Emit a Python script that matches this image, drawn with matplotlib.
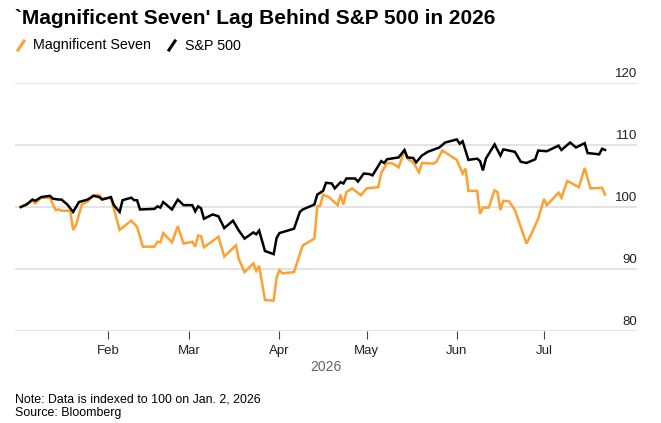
import matplotlib
matplotlib.use("Agg")
import matplotlib.pyplot as plt
import matplotlib.dates as mdates
from matplotlib.lines import Line2D
import numpy as np
import datetime as dt

plt.rcParams['font.family'] = ['Liberation Sans', 'DejaVu Sans']

start = dt.date(2026, 1, 2)

# day offsets from Jan 2, 2026 and index values
spx_days = [0, 2, 4, 5, 7, 10, 11, 13, 14, 16, 18, 20, 23, 25, 27, 28, 31, 32, 34, 35,
            38, 39, 40, 41, 46, 47, 48, 49, 52, 54, 56, 59, 60, 61, 62, 63, 66, 68, 70, 73,
            75, 77, 80, 81, 82, 84, 87, 88, 89, 94, 96, 97, 101, 102, 104, 105, 107, 108, 110, 111,
            112, 115, 116, 118, 120, 121, 124, 125, 126, 130, 132, 133, 135, 136, 138, 140, 144, 146, 150, 151,
            152, 154, 157, 158, 159, 160, 163, 165, 166, 170, 172, 174, 177, 178, 181, 185, 186, 189, 191, 194,
            195, 199, 200, 201]
spx_vals = [100.0, 100.4, 101.2, 101.0, 101.6, 101.8, 101.35, 101.2, 101.2, 100.4, 99.2, 100.8, 101.2, 101.8, 101.6, 101.2, 101.6, 100.3, 99.2, 101.1,
            101.5, 101.1, 101.1, 99.6, 99.7, 100.1, 99.9, 100.8, 99.6, 101.2, 100.3, 100.3, 99.3, 100.1, 99.8, 98.1, 98.8, 98.5, 96.6, 97.8,
            96.2, 94.9, 95.9, 95.6, 96.2, 92.9, 92.4, 95.0, 95.8, 96.5, 99.2, 99.6, 100.4, 102.0, 102.6, 103.9, 103.8, 103.0, 104.0, 103.8,
            104.6, 104.6, 104.1, 105.4, 105.3, 105.1, 107.4, 107.1, 107.7, 108.0, 109.2, 108.0, 107.9, 107.2, 108.3, 108.9, 109.6, 110.4, 110.9, 110.2,
            110.6, 107.6, 107.8, 107.4, 105.9, 107.8, 110.1, 108.3, 109.3, 108.9, 107.3, 107.1, 107.7, 109.1, 109.0, 109.9, 109.2, 110.4, 109.6, 110.3,
            108.7, 108.5, 109.4, 109.2]

mag7_days = [0, 4, 5, 7, 10, 12, 13, 14, 17, 18, 19, 21, 23, 25, 27, 28, 31, 34, 38, 40,
             42, 46, 47, 48, 49, 52, 54, 56, 59, 60, 61, 62, 63, 68, 70, 74, 75, 77, 80, 81,
             82, 84, 87, 88, 89, 90, 94, 96, 97, 101, 102, 103, 104, 106, 109, 110, 111, 112, 114, 117,
             119, 123, 124, 126, 128, 130, 132, 133, 135, 137, 138, 142, 143, 145, 150, 152, 153, 154, 157, 158,
             159, 161, 163, 164, 165, 166, 168, 170, 172, 174, 176, 178, 180, 181, 185, 186, 188, 192, 194, 196,
             200, 201]
mag7_vals = [100.0, 101.0, 100.6, 101.5, 101.5, 99.5, 99.6, 99.4, 99.4, 96.3, 97.1, 100.4, 100.9, 101.9, 101.9, 101.35, 101.5, 96.3, 97.8, 96.8,
             93.6, 93.6, 94.4, 94.3, 95.8, 94.3, 96.9, 94.1, 94.4, 93.6, 95.4, 95.3, 93.5, 95.2, 92.0, 93.8, 91.6, 89.5, 90.9, 89.7,
             90.5, 85.0, 84.9, 88.6, 89.8, 89.3, 89.5, 92.4, 93.8, 94.9, 100.1, 100.2, 102.0, 101.6, 100.3, 102.0, 100.4, 102.4, 103.0, 101.9,
             103.0, 103.2, 105.5, 107.1, 107.0, 106.4, 109.1, 107.8, 107.2, 105.6, 107.1, 107.0, 107.3, 109.1, 107.6, 105.4, 106.2, 102.6, 102.6, 98.9,
             99.9, 99.9, 102.7, 102.4, 99.5, 101.0, 100.9, 99.5, 96.8, 94.1, 96.0, 98.1, 101.3, 100.3, 102.3, 101.5, 104.2, 103.2, 106.3, 103.0,
             103.1, 102.0]

yticks = [80, 90, 100, 110, 120]
month_ticks = ['2026-02-01', '2026-03-01', '2026-04-01', '2026-05-01', '2026-06-01', '2026-07-01']
month_labels = ['Feb', 'Mar', 'Apr', 'May', 'Jun', 'Jul']

orange = '#ffa030'

def to_dates(days):
    return [start + dt.timedelta(days=int(d)) for d in days]

fig = plt.figure(figsize=(6.61, 4.23), dpi=100)
ax = fig.add_axes([15/661, 1-331/423, (637-15)/661, (331-83)/423])

for v in yticks:
    ax.axhline(v, color='#e3e3e3', lw=1.4, zorder=0)
    ax.annotate(str(v), xy=(1.0, v), xycoords=ax.get_yaxis_transform(),
                xytext=(0, 2), textcoords='offset points', ha='right', va='bottom',
                fontsize=9.5, color='#222222')

ax.plot(to_dates(mag7_days), mag7_vals, color=orange, lw=1.8, solid_joinstyle='miter', zorder=3)
ax.plot(to_dates(spx_days), spx_vals, color='black', lw=1.8, solid_joinstyle='miter', zorder=4)

ax.set_ylim(80, 120)
ax.set_xlim(dt.date(2025, 12, 31), dt.date(2026, 8, 2))
for s in ax.spines.values():
    s.set_visible(False)
ax.set_yticks([])
mt = [dt.date.fromisoformat(m) for m in month_ticks]
ax.set_xticks(mt)
ax.set_xticklabels(month_labels, fontsize=9.5, color='#222222')
ax.tick_params(axis='x', length=6, width=0.8, color='#444444', pad=4)
ax.set_xlabel('2026', fontsize=10, color='#666666', labelpad=2)

fig.text(15/661, 1-19/423, "`Magnificent Seven' Lag Behind S&P 500 in 2026",
         fontsize=15, fontweight='bold', va='center', ha='left')

# legend
fig.add_artist(Line2D([18/661, 24/661], [1-50/423, 1-41/423], color=orange, lw=2.2))
fig.text(33/661, 1-45.5/423, 'Magnificent Seven', fontsize=10.3, va='center', ha='left')
fig.add_artist(Line2D([169/661, 175/661], [1-50/423, 1-41/423], color='black', lw=2.2))
fig.text(185/661, 1-45.5/423, 'S&P 500', fontsize=10.3, va='center', ha='left')

fig.text(15/661, 1-399/423, 'Note: Data is indexed to 100 on Jan. 2, 2026', fontsize=8.9, va='center')
fig.text(15/661, 1-413/423, 'Source: Bloomberg', fontsize=8.9, va='center')

fig.savefig('out.png', dpi=100)
